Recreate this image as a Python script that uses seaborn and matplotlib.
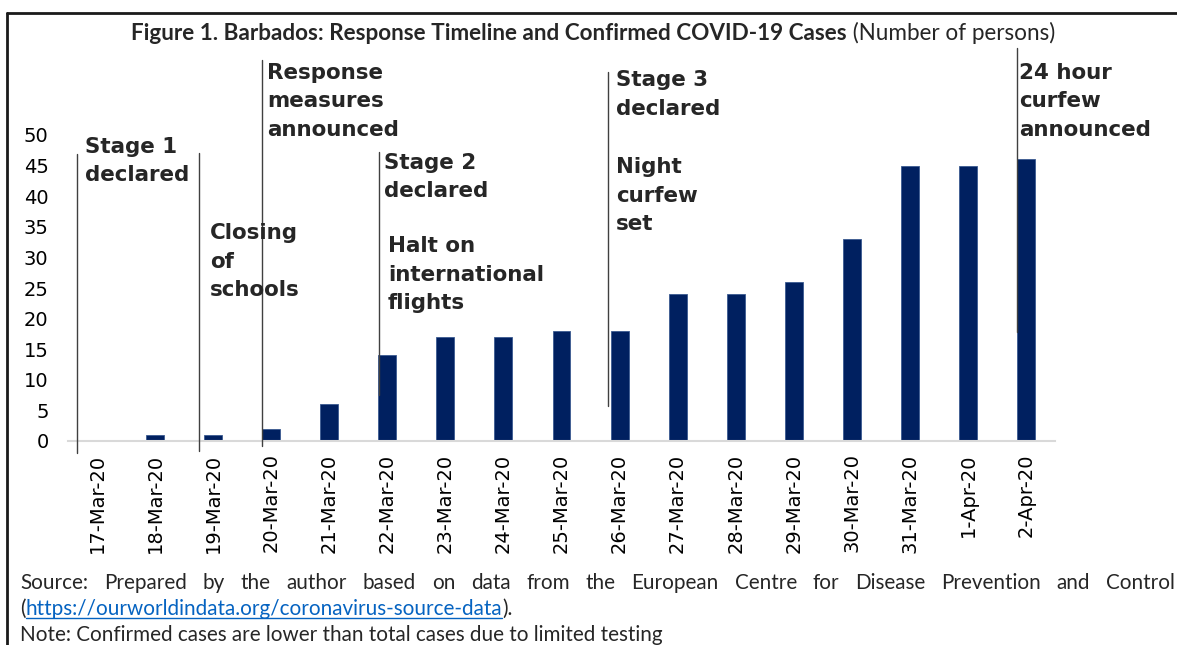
import matplotlib
matplotlib.use("Agg")
import numpy as np
import pandas as pd
import matplotlib.pyplot as plt
import seaborn as sns
from matplotlib.lines import Line2D

dates = ["17-Mar-20", "18-Mar-20", "19-Mar-20", "20-Mar-20", "21-Mar-20",
         "22-Mar-20", "23-Mar-20", "24-Mar-20", "25-Mar-20", "26-Mar-20",
         "27-Mar-20", "28-Mar-20", "29-Mar-20", "30-Mar-20", "31-Mar-20",
         "1-Apr-20", "2-Apr-20"]
cases = [0, 1, 1, 2, 6, 14, 17, 17, 18, 18, 24, 24, 26, 33, 45, 45, 46]

event_labels = ["Stage 1\ndeclared", "Closing\nof\nschools",
                "Response\nmeasures\nannounced", "Stage 2\ndeclared",
                "Halt on\ninternational\nflights", "Stage 3\ndeclared",
                "Night\ncurfew\nset", "24 hour\ncurfew\nannounced"]

title_bold = "Figure 1. Barbados: Response Timeline and Confirmed COVID-19 Cases"
title_rest = " (Number of persons)"
source_text = ("Source: Prepared by the author based on data from the European "
               "Centre for Disease Prevention and Control")
link_text = "https://ourworldindata.org/coronavirus-source-data"
note_text = "Note: Confirmed cases are lower than total cases due to limited testing"

# layout (category units on x, value units on y)
event_lines = [(-0.345, 46.9, -2.0), (1.756, 47.1, -1.6), (2.84, 62.3, -0.8),
               (4.857, 47.2, 7.5), (8.80, 60.3, 5.7), (15.845, 64.2, 17.8)]
label_pos = [(-0.21, 49.7), (1.95, 35.6), (2.93, 61.8), (4.94, 47.1),
             (5.01, 33.5), (8.94, 60.6), (8.94, 46.4), (15.88, 61.8)]

W, H = 1177, 645
NAVY = "#002060"
TXT = "#262626"
CAL = ["Lato", "DejaVu Sans"]


def fy(py):
    return 1 - py / H


sns.set_theme(style="white")
plt.rcParams["font.family"] = ["DejaVu Sans"]

fig = plt.figure(figsize=(W / 100, H / 100), dpi=100)
ax = fig.add_axes([68 / W, fy(441), (1055 - 68) / W, (441 - 135) / H])

df = pd.DataFrame({"date": dates, "cases": cases})
sns.barplot(data=df, x="date", y="cases", color=NAVY, saturation=1,
            width=0.31, edgecolor="#3a5a90", linewidth=0.6, ax=ax)

ax.set_xlim(-0.5, len(dates) - 0.5)
ax.set_ylim(0, 50)
ax.set_yticks(range(0, 51, 5))
ax.set_xlabel("")
ax.set_ylabel("")
for s in ["left", "top", "right"]:
    ax.spines[s].set_visible(False)
ax.spines["bottom"].set_color("#d9d9d9")
ax.spines["bottom"].set_linewidth(1.5)

ax.set_xticks(np.arange(-0.5, len(dates), 1), minor=True)
ax.tick_params(axis="x", which="minor", length=7, width=1.5, color="#d9d9d9")
ax.tick_params(axis="x", which="major", length=0, pad=9, labelsize=14,
               labelrotation=90, labelcolor="black")
ax.tick_params(axis="y", length=0, pad=14, labelsize=14, labelcolor="black")

# event markers
for x, top, bottom in event_lines:
    ax.add_line(Line2D([x, x], [bottom, top], color="#404040", lw=1.0,
                       clip_on=False, zorder=3))
for txt, (x, y) in zip(event_labels, label_pos):
    ax.text(x, y, txt, ha="left", va="top", fontsize=15.4, fontweight="bold",
            color=TXT, linespacing=1.54, clip_on=False)

# figure frame
fig.add_artist(Line2D([7 / W, 1.01], [fy(13), fy(13)], color="#1a1a1a", lw=2,
                      transform=fig.transFigure))
fig.add_artist(Line2D([7 / W, 7 / W], [fy(13), -0.01], color="#1a1a1a", lw=2,
                      transform=fig.transFigure))

renderer = fig.canvas.get_renderer()


def width_px(t):
    return t.get_window_extent(renderer).width


def fit(t, target):
    t.set_fontsize(t.get_fontsize() * target / width_px(t))


# title
tb = fig.text(131 / W, fy(40), title_bold, ha="left", va="baseline",
              fontsize=14, fontweight="bold", family=CAL, color=TXT)
fit(tb, 722)
tr = fig.text((131 + width_px(tb)) / W, fy(40), title_rest, ha="left",
              va="baseline", fontsize=tb.get_fontsize(), family=CAL, color=TXT)

# notes
nt = fig.text(20 / W, fy(641), note_text, ha="left", va="baseline",
              fontsize=14, family=CAL, color=TXT)
fit(nt, 643)
fs = nt.get_fontsize()

words = source_text.split()
wtexts = [fig.text(0, fy(589), w, ha="left", va="baseline", fontsize=fs,
                   family=CAL, color=TXT) for w in words]
widths = [width_px(t) for t in wtexts]
gap = (1175 - 20 - sum(widths)) / (len(words) - 1)
xpos = 20
for t, w in zip(wtexts, widths):
    t.set_x(xpos / W)
    xpos += w + gap

p1 = fig.text(20 / W, fy(615), "(", ha="left", va="baseline", fontsize=fs,
              family=CAL, color=TXT)
x_link = 20 + width_px(p1)
lk = fig.text(x_link / W, fy(615), link_text, ha="left", va="baseline",
              fontsize=fs, family=CAL, color="#0563c1")
lw_ = width_px(lk)
fig.text((x_link + lw_) / W, fy(615), ").", ha="left", va="baseline",
         fontsize=fs, family=CAL, color=TXT)
fig.add_artist(Line2D([x_link / W, (x_link + lw_) / W], [fy(618), fy(618)],
                      color="#0563c1", lw=1, transform=fig.transFigure))

fig.savefig("out.png", dpi=100)
